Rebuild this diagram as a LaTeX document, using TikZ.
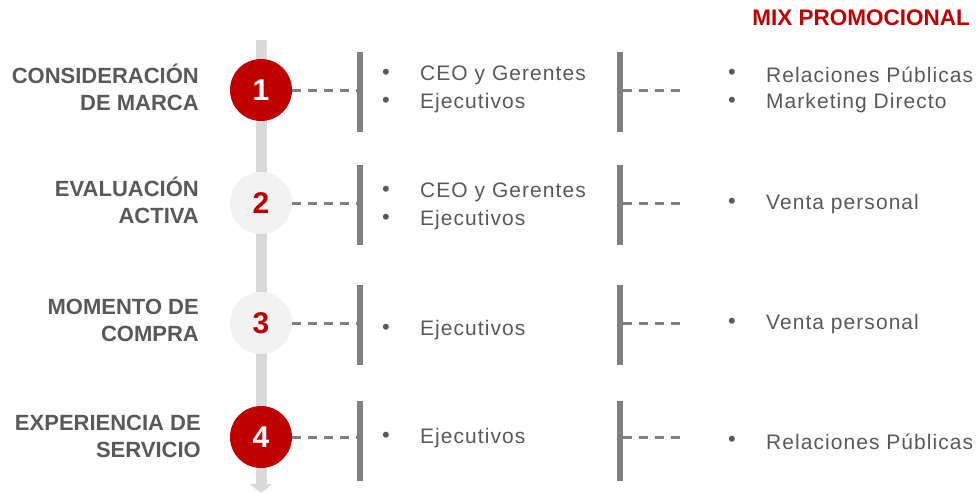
\documentclass[tikz,border=0pt]{standalone}
\usepackage{fontspec}
\setmainfont{Liberation Sans}
\usetikzlibrary{arrows.meta}
\usetikzlibrary{positioning}
\definecolor{brandred}{HTML}{C00000}
\definecolor{txtgray}{HTML}{595959}
\definecolor{bargray}{HTML}{808080}
\definecolor{trackgray}{HTML}{D9D9D9}
\definecolor{softgray}{HTML}{F2F2F2}

\begin{document}
\begin{tikzpicture}[x=1pt,y=-1pt,
	stage/.style = {circle,minimum size=62pt,inner sep=0pt,font=\fontsize{30}{30}\selectfont\bfseries},
	hot/.style = {stage,fill=brandred,text=white},
	cold/.style = {stage,fill=softgray,text=brandred},
	phase/.style = {anchor=east,align=right,inner sep=0pt,text=txtgray,font=\fontsize{22}{27}\selectfont\bfseries},
	item/.style = {anchor=west,inner sep=0pt,text=txtgray,font=\fontsize{21}{21}\selectfont\addfontfeature{LetterSpace=5}},
	dot/.style = {inner sep=0pt,text=txtgray,font=\fontsize{22}{22}\selectfont},
	bar/.style = {fill=bargray,minimum width=6pt,minimum height=80pt,inner sep=0pt},
	link/.style = {draw=bargray,line width=3pt,dash pattern=on 9pt off 7pt}]
	\useasboundingbox (0,0) rectangle (978,493);

	% timeline track
	\coordinate (top) at (261,40);
	\coordinate (bottom) at (261,493);
	\draw [trackgray,line width=11pt,-{Triangle[width=22pt,length=9pt]}] (top) -- (bottom);

	\node [anchor=east,inner sep=0pt,text=brandred,font=\fontsize{22.5}{22.5}\selectfont\bfseries] (mix) at (970,18) {MIX PROMOCIONAL};

	% stages
	\node [hot] (s1) at (261,90) {1};
	\node [cold] (s2) at (261,203) {2};
	\node [cold] (s3) at (261,323) {3};
	\node [hot] (s4) at (261,437) {4};

	\node [phase] (p1) at (199,87) {CONSIDERACIÓN\\DE MARCA};
	\node [phase] (p2) at (199,200) {EVALUACIÓN\\ACTIVA};
	\node [phase] (p3) at (199,320) {MOMENTO DE\\COMPRA};
	\node [phase] (p4) at (201,436) {EXPERIENCIA DE\\SERVICIO};

	% bars
	\node [bar] (a1) at (360,92) {};
	\node [bar] (a2) at (360,205) {};
	\node [bar] (a3) at (360,325) {};
	\node [bar] (a4) at (360,441) {};
	\node [bar] (b1) at (620,92) {};
	\node [bar] (b2) at (620,205) {};
	\node [bar] (b3) at (620,325) {};
	\node [bar] (b4) at (620,441) {};

	% dashed links
	\draw [link] (s1.east) -- (a1.west |- s1);
	\draw [link] (s2.east) -- (a2.west |- s2);
	\draw [link] (s3.east) -- (a3.west |- s3);
	\draw [link] (s4.east) -- (a4.west |- s4);
	\coordinate (e1) at (683,90);
	\coordinate (e2) at (683,203);
	\coordinate (e3) at (683,323);
	\coordinate (e4) at (683,437);
	\draw [link] (b1.east |- e1) -- (e1);
	\draw [link] (b2.east |- e2) -- (e2);
	\draw [link] (b3.east |- e3) -- (e3);
	\draw [link] (b4.east |- e4) -- (e4);

	% audiences
	\node [dot] (d11) at (386,74) {•};
	\node [item] (t11) at (420,75) {CEO y Gerentes};
	\node [dot] (d12) at (386,102) {•};
	\node [item] (t12) at (420,103) {Ejecutivos};
	\node [dot] (d21) at (386,191) {•};
	\node [item] (t21) at (420,192) {CEO y Gerentes};
	\node [dot] (d22) at (386,219) {•};
	\node [item] (t22) at (420,220) {Ejecutivos};
	\node [dot] (d31) at (386,329) {•};
	\node [item] (t31) at (420,330) {Ejecutivos};
	\node [dot] (d41) at (386,437) {•};
	\node [item] (t41) at (420,438) {Ejecutivos};

	% promotional mix
	\node [dot] (m11) at (732,74) {•};
	\node [item] (r11) at (766,75) {Relaciones Públicas};
	\node [dot] (m12) at (732,102) {•};
	\node [item] (r12) at (766,103) {Marketing Directo};
	\node [dot] (m21) at (732,203) {•};
	\node [item] (r21) at (766,204) {Venta personal};
	\node [dot] (m31) at (732,323) {•};
	\node [item] (r31) at (766,324) {Venta personal};
	\node [dot] (m41) at (732,441) {•};
	\node [item] (r41) at (766,442) {Relaciones Públicas};
\end{tikzpicture}
\end{document}
